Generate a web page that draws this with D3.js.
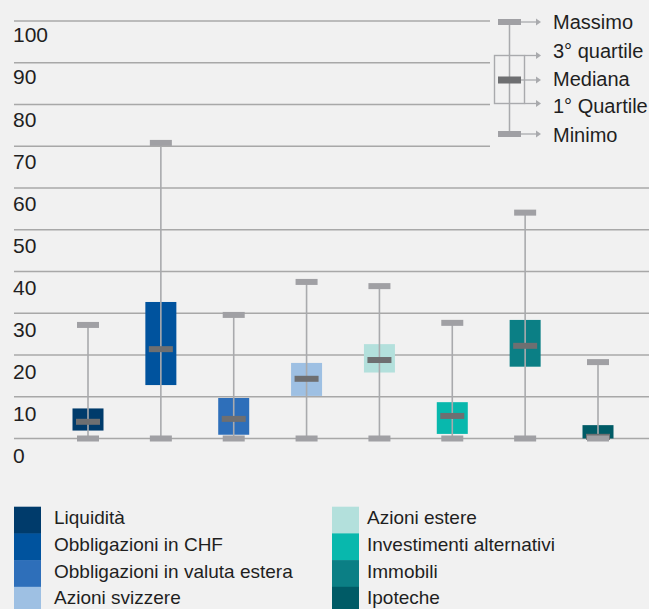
<!DOCTYPE html>
<html>
<head>
<meta charset="utf-8">
<script src="https://cdn.jsdelivr.net/npm/d3@7"></script>
<style>
  html, body { margin: 0; padding: 0; background: #f1f1f1; }
  svg { display: block; }
  text { font-family: "Liberation Sans", Arial, Helvetica, sans-serif; fill: #1f1f1f; }
</style>
</head>
<body>
<svg id="chart" width="649" height="609"></svg>
<script>
const categories = ["Liquidità", "Obbligazioni in CHF", "Obbligazioni in valuta estera", "Azioni svizzere",
                    "Azioni estere", "Investimenti alternativi", "Immobili", "Ipoteche"];
const minimo  = [0, 0, 0, 0, 0, 0, 0, 0];
const quart1  = [1.9, 12.8, 0.9, 10.2, 15.8, 1.1, 17.2, 0];
const mediana = [4.0, 21.4, 4.7, 14.3, 18.8, 5.4, 22.2, 0.4];
const quart3  = [7.2, 32.7, 9.7, 18.1, 22.6, 8.7, 28.4, 3.2];
const massimo = [27.2, 70.8, 29.6, 37.5, 36.5, 27.7, 54.1, 18.3];
const colors  = ["#003b6b", "#00539e", "#2e6fba", "#9ec0e3", "#b3e0dc", "#08b8ad", "#0b7f85", "#005b66"];
const tickValues = [0, 10, 20, 30, 40, 50, 60, 70, 80, 90, 100];
const keyLabels = ["Massimo", "3° quartile", "Mediana", "1° Quartile", "Minimo"];

const svg = d3.select("#chart");
svg.append("rect").attr("width", 649).attr("height", 609).attr("fill", "#f1f1f1");

const y = d3.scaleLinear().domain([0, 100]).range([438.5, 21]);
const yLabel = d3.scaleLinear().domain([0, 100]).range([463.3, 42.3]);
const x = d3.scalePoint().domain(categories).range([88, 598]);

// gridlines
svg.append("g").selectAll("line").data(tickValues).join("line")
  .attr("x1", 14).attr("x2", d => d >= 70 ? 490 : 649)
  .attr("y1", d => y(d)).attr("y2", d => y(d))
  .attr("stroke", "#a8a8a8").attr("stroke-width", 1.4);

// tick labels
svg.append("g").selectAll("text").data(tickValues).join("text")
  .attr("x", 13).attr("y", d => yLabel(d))
  .attr("font-size", 21)
  .text(d => d);

const data = categories.map((c, i) => ({
  c, min: minimo[i], q1: quart1[i], med: mediana[i], q3: quart3[i], max: massimo[i], color: colors[i]
}));

const boxW = 31, capW = 22, capH = 6, medW = 24, medH = 6;
const g = svg.append("g");

// boxes
g.selectAll("rect.box").data(data).join("rect").attr("class", "box")
  .attr("x", d => x(d.c) - boxW / 2).attr("width", boxW)
  .attr("y", d => y(d.q3)).attr("height", d => y(d.q1) - y(d.q3))
  .attr("fill", d => d.color);

// whiskers
g.selectAll("line.wh").data(data).join("line").attr("class", "wh")
  .attr("x1", d => x(d.c)).attr("x2", d => x(d.c))
  .attr("y1", d => y(d.max)).attr("y2", d => y(d.min))
  .attr("stroke", "#a9aaad").attr("stroke-width", 1.6);

// medians
g.selectAll("rect.med").data(data).join("rect").attr("class", "med")
  .attr("x", d => x(d.c) - medW / 2).attr("width", medW)
  .attr("y", d => y(d.med) - medH / 2).attr("height", medH)
  .attr("fill", "#6e6f71");

// caps
["max", "min"].forEach(k => {
  g.selectAll("rect.cap-" + k).data(data).join("rect").attr("class", "cap-" + k)
    .attr("x", d => x(d.c) - capW / 2).attr("width", capW)
    .attr("y", d => y(d[k]) - capH / 2).attr("height", capH)
    .attr("fill", "#a0a0a4");
});

// key (explanation of box plot), top right
const key = svg.append("g");
const kx = 509.5;
key.append("line").attr("x1", kx).attr("x2", kx).attr("y1", 22).attr("y2", 134)
  .attr("stroke", "#a9aaad").attr("stroke-width", 1.5);
key.append("rect").attr("x", 494.5).attr("y", 55.5).attr("width", 30).attr("height", 48)
  .attr("fill", "none").attr("stroke", "#a9aaad").attr("stroke-width", 1.4);
key.append("rect").attr("x", 498).attr("y", 19).attr("width", 23).attr("height", 6).attr("fill", "#a0a0a4");
key.append("rect").attr("x", 498).attr("y", 131).attr("width", 23).attr("height", 6).attr("fill", "#a0a0a4");
key.append("rect").attr("x", 498).attr("y", 76.5).attr("width", 23).attr("height", 7).attr("fill", "#6e6f71");

const arrowY = [22, 55.5, 80, 103.5, 134];
const arrowX0 = [521, 524.5, 521, 524.5, 521];
const textY = [29.3, 58.3, 86, 113.3, 141.7];
arrowY.forEach((ay, i) => {
  key.append("line").attr("x1", arrowX0[i]).attr("x2", 537).attr("y1", ay).attr("y2", ay)
    .attr("stroke", "#a9aaad").attr("stroke-width", 1.3);
  key.append("path").attr("d", `M536,${ay - 3.5}L541,${ay}L536,${ay + 3.5}Z`).attr("fill", "#a9aaad");
  key.append("text").attr("x", 553).attr("y", textY[i]).attr("font-size", 20).text(keyLabels[i]);
});

// legend
const leg = svg.append("g");
const rowH = 26.7;
data.forEach((d, i) => {
  const col = Math.floor(i / 4), row = i % 4;
  const sx = col === 0 ? 14 : 332;
  const tx = col === 0 ? 54 : 367;
  const top = 506.7 + row * rowH;
  leg.append("rect").attr("x", sx).attr("y", top).attr("width", 27).attr("height", rowH + 0.5)
    .attr("fill", d.color);
  leg.append("text").attr("x", tx).attr("y", top + 17.6).attr("font-size", 19).text(d.c);
});
</script>
</body>
</html>
